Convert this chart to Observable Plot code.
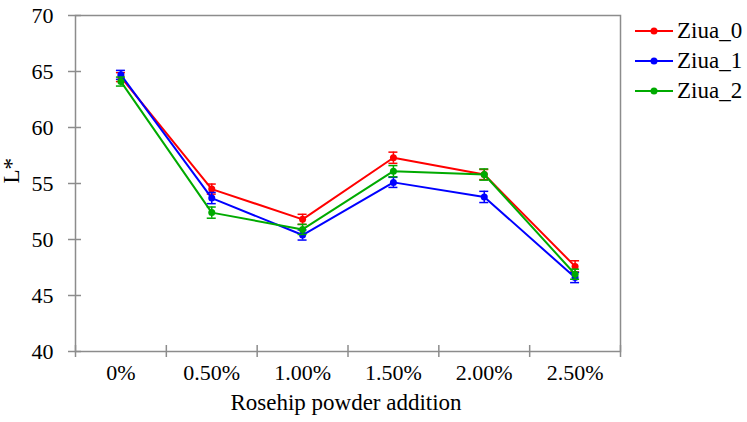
<!DOCTYPE html>
<html>
<head>
<meta charset="utf-8">
<script src="https://cdn.jsdelivr.net/npm/d3@7"></script>
<script src="https://cdn.jsdelivr.net/npm/@observablehq/plot@0.6"></script>
<style>
  body { margin: 0; background: white; }
  #wrap { position: relative; width: 747px; height: 422px; font-family: "Liberation Serif", Tinos, serif; }
  #legend { position: absolute; left: 635px; top: 16px; }
  .row { display: flex; align-items: center; height: 30px; font-size: 23px; color: black; font-family: "Liberation Serif", Tinos, serif; }
  .row span { margin-left: 4px; line-height: 30px; }
</style>
</head>
<body>
<div id="wrap"><div id="legend"></div></div>
<script>
const categories = ["0%", "0.50%", "1.00%", "1.50%", "2.00%", "2.50%"];
const seriesNames = ["Ziua_0", "Ziua_1", "Ziua_2"];
const ziua0 = [64.5, 54.5, 51.8, 57.3, 55.8, 47.6];
const ziua1 = [64.7, 53.7, 50.4, 55.1, 53.8, 46.6];
const ziua2 = [64.1, 52.4, 50.9, 56.1, 55.8, 46.9];
const err0 = [0.4, 0.45, 0.45, 0.5, 0.45, 0.5];
const err1 = [0.4, 0.5, 0.45, 0.45, 0.5, 0.45];
const err2 = [0.4, 0.5, 0.45, 0.5, 0.5, 0.45];
const colors = ["#FF0000", "#0000FF", "#00AA00"];
const yTicks = [40, 45, 50, 55, 60, 65, 70];
const xLabel = "Rosehip powder addition";
const yLabel = "L*";

const values = [ziua0, ziua1, ziua2];
const errors = [err0, err1, err2];
const xDomain = [-0.5, categories.length - 0.5];
const xBounds = d3.range(xDomain[0], xDomain[1] + 0.01, 1);
const gray = "#8c8c8c";
const serif = "\"Liberation Serif\", Tinos, serif";

const seriesMarks = [];
seriesNames.forEach((name, s) => {
  const rows = values[s].map((v, i) => ({i, v, e: errors[s][i]}));
  const c = colors[s];
  seriesMarks.push(
    Plot.line(rows, {x: "i", y: "v", stroke: c, strokeWidth: 2}),
    Plot.ruleX(rows, {x: "i", y1: d => d.v - d.e, y2: d => d.v + d.e, stroke: c, strokeWidth: 1.5}),
    Plot.ruleY(rows, {y: d => d.v + d.e, x1: "i", x2: "i", insetLeft: -4.5, insetRight: -4.5, stroke: c, strokeWidth: 1.5}),
    Plot.ruleY(rows, {y: d => d.v - d.e, x1: "i", x2: "i", insetLeft: -4.5, insetRight: -4.5, stroke: c, strokeWidth: 1.5}),
    Plot.dot(rows, {x: "i", y: "v", r: 3.5, fill: c, stroke: "none"})
  );
});

const chart = Plot.plot({
  width: 747,
  height: 422,
  marginLeft: 75,
  marginRight: 127,
  marginTop: 15,
  marginBottom: 71,
  x: {domain: xDomain, axis: null},
  y: {domain: [yTicks[0], yTicks[yTicks.length - 1]], axis: null},
  style: {fontFamily: serif, fontSize: "22px", color: "black", background: "white"},
  marks: [
    Plot.frame({stroke: gray, strokeWidth: 1.5}),
    Plot.ruleY(yTicks, {y: d => d, x1: xDomain[0], x2: xDomain[0], insetLeft: -7, insetRight: -6, stroke: gray, strokeWidth: 1.5}),
    Plot.ruleX(xBounds, {x: d => d, y1: yTicks[0], y2: yTicks[0], insetTop: -6, insetBottom: -6, stroke: gray, strokeWidth: 1.5}),
    Plot.text(yTicks, {y: d => d, text: d => String(d), frameAnchor: "left", textAnchor: "end", dx: -22, fill: "black", fontFamily: serif, fontSize: 22}),
    Plot.text(categories, {x: (d, i) => i, text: d => d, frameAnchor: "bottom", dy: 28.5, fill: "black", fontFamily: serif, fontSize: 22}),
    Plot.text([xLabel], {text: d => d, frameAnchor: "bottom", dy: 58, dx: -2, fill: "black", fontFamily: serif, fontSize: 23}),
    Plot.text([yLabel], {text: d => d, frameAnchor: "left", dx: -64, rotate: -90, fill: "black", fontFamily: serif, fontSize: 23}),
    ...seriesMarks
  ]
});
document.getElementById("wrap").prepend(chart);

const legend = document.getElementById("legend");
seriesNames.forEach((name, s) => {
  const row = document.createElement("div");
  row.className = "row";
  row.innerHTML = `<svg width="38" height="30"><line x1="0" x2="38" y1="15" y2="15" stroke="${colors[s]}" stroke-width="2"/><circle cx="19" cy="15" r="3.5" fill="${colors[s]}"/></svg><span>${name}</span>`;
  legend.appendChild(row);
});
</script>
</body>
</html>
